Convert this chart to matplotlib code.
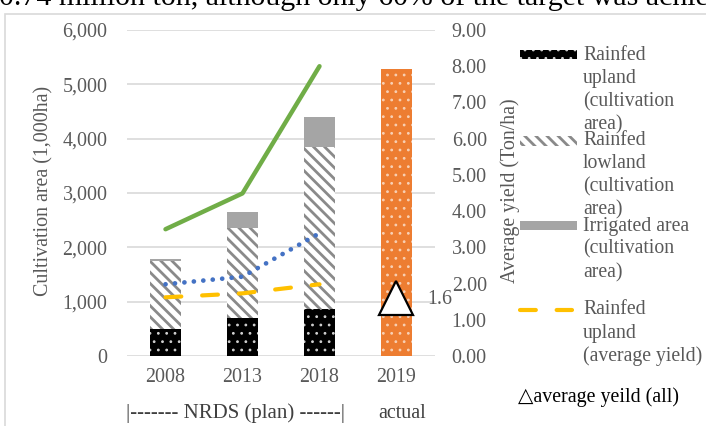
import matplotlib as mpl
import matplotlib.pyplot as plt
from matplotlib.patches import Rectangle
from matplotlib.lines import Line2D

plt.rcParams['font.family'] = ['Liberation Serif', 'DejaVu Serif']

years = ['2008', '2013', '2018', '2019']
plan = [0, 1, 2]
upland_area = [500, 705, 860]
lowland_area = [1250, 1658, 2989]
irrigated_area = [40, 283, 552]
actual_area = 5285
yield_green = [3.50, 4.49, 8.0]
yield_blue = [1.98, 2.19, 3.39]
upland_yield = [1.62, 1.73, 1.98]
yield_all = 1.6

W, H = 706, 426
GREY = '#595959'
STRIPES = '\\\\\\'


def fx(x):
    return x / W


def fy(y):
    return 1 - y / H


fig = plt.figure(figsize=(W / 100, H / 100), dpi=100)

# chart frame and the clipped line of body text above it
fig.patches.append(Rectangle((fx(5), fy(430)), (W + 10) / W, 416 / H,
                             transform=fig.transFigure, fill=False,
                             edgecolor='#d9d9d9', lw=1.2))
fig.text(fx(-1), fy(5), '0.74 million ton, although only 60% of the target was achie',
         fontsize=21.5, va='baseline', ha='left', color='black')

ax = fig.add_axes([fx(127), fy(356), 308 / W, 326 / H])
ax2 = ax.twinx()

bw = 0.4
with mpl.rc_context({'hatch.linewidth': 0.8}):
    ax.bar(plan, upland_area, bw, color='black', edgecolor='#d0d0d0', hatch='..', lw=0,
           zorder=2)
    ax.bar([3], [actual_area], bw, color='#ed7d31', edgecolor='#f8d0b4', hatch='..', lw=0,
           zorder=2)
    dots_upland = Rectangle((fx(520), fy(59)), 57 / W, 9 / H, transform=fig.transFigure,
                            facecolor='black', edgecolor='#d0d0d0', hatch='..', lw=0)
with mpl.rc_context({'hatch.linewidth': 2.0}):
    tops = [a + b for a, b in zip(upland_area, lowland_area)]
    ax.bar(plan, lowland_area, bw, bottom=upland_area, color='white', edgecolor='#8a8a8a',
           hatch=STRIPES, lw=0, zorder=2)
    stripes_lowland = Rectangle((fx(520), fy(146)), 57 / W, 10 / H,
                                transform=fig.transFigure, facecolor='white',
                                edgecolor='#8a8a8a', hatch=STRIPES, lw=0)
ax.bar(plan, irrigated_area, bw, bottom=tops, color='#a5a5a5', lw=0, zorder=2)

ax.set_xlim(-0.5, 3.5)
ax.set_ylim(0, 6000)
ax.set_yticks(range(0, 6001, 1000))
ax.set_yticklabels([f'{v:,}' for v in range(0, 6001, 1000)])
ax.grid(axis='y', color='#d9d9d9', lw=1.2, zorder=0)
ax.set_axisbelow(True)
ax.set_xticks(range(4))
ax.set_xticklabels(years)

ax2.set_ylim(0, 9)
ax2.set_yticks(range(10))
ax2.set_yticklabels([f'{v:.2f}' for v in range(10)])

ax2.plot(plan, yield_green, color='#70ad47', lw=3.2, solid_capstyle='round')
ax2.plot(plan, yield_blue, color='#4472c4', lw=3.4, ls=(0, (0.01, 2.0)),
         dash_capstyle='round')
ax2.plot(plan, upland_yield, color='#ffc000', lw=3, ls=(0, (3.8, 5.0)),
         dash_capstyle='round')
ax2.plot([3], [yield_all], marker='^', ms=24, mfc='white', mec='black', mew=1.6,
         ls='none')
ax2.annotate(f'{yield_all}', (3, yield_all), xytext=(22, -1), textcoords='offset points',
             fontsize=14.4, color=GREY, va='center', ha='left')

for a in (ax, ax2):
    for s in a.spines.values():
        s.set_visible(False)
ax.tick_params(axis='y', length=0, pad=14, labelsize=14.4, labelcolor=GREY)
ax.tick_params(axis='x', length=0, pad=9, labelsize=14.4, labelcolor=GREY)
ax2.tick_params(axis='y', length=0, pad=12, labelsize=14.4, labelcolor=GREY)

fig.text(fx(44), fy(191), 'Cultivation area (1,000ha)', rotation=90, fontsize=14.4,
         color=GREY, ha='center', va='center')
fig.text(fx(510), fy(191), 'Average yield (Ton/ha)', rotation=90, fontsize=14.4,
         color=GREY, ha='center', va='center')

fig.text(fx(236), fy(413), '|------- NRDS (plan) ------|', fontsize=15, color='#404040',
         ha='center', va='center')
fig.text(fx(402), fy(413), 'actual', fontsize=14.4, color='#404040',
         ha='center', va='center')

# legend, built by hand
fig.patches.append(dots_upland)
fig.patches.append(stripes_lowland)
fig.patches.append(Rectangle((fx(520), fy(230)), 57 / W, 9 / H, transform=fig.transFigure,
                             facecolor='#a5a5a5', lw=0))
fig.lines.append(Line2D([fx(520), fx(572)], [fy(310), fy(310)], transform=fig.transFigure,
                        color='#ffc000', lw=3, ls=(0, (3.8, 5.0)), dash_capstyle='round'))

legend_entries = [
    (55, ['Rainfed', 'upland', '(cultivation', 'area)']),
    (140, ['Rainfed', 'lowland', '(cultivation', 'area)']),
    (226, ['Irrigated area', '(cultivation', 'area)']),
    (310, ['Rainfed', 'upland', '(average yield)']),
]
for y0, lines in legend_entries:
    for i, line in enumerate(lines):
        fig.text(fx(583), fy(y0 + 23.2 * i), line, fontsize=14.2, color=GREY,
                 ha='left', va='center')
fig.text(fx(518), fy(397), '\u25b3average yeild (all)', fontsize=14.4, color='black',
         ha='left', va='center')

fig.savefig('out.png', dpi=100)
